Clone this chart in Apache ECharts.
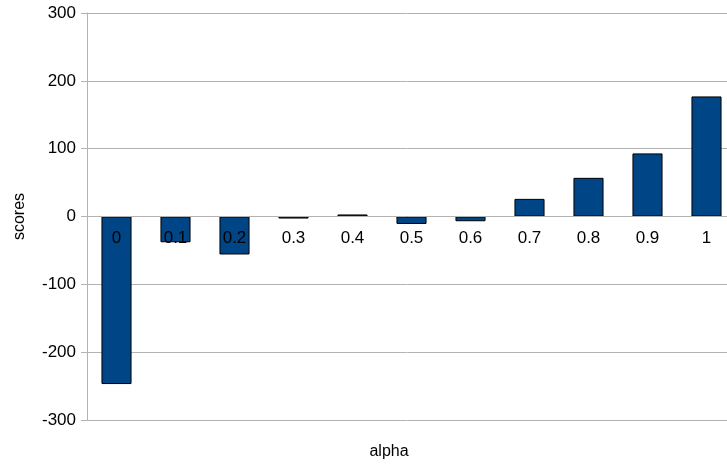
<!DOCTYPE html>
<html>
<head>
<meta charset="utf-8">
<script src="https://cdn.jsdelivr.net/npm/echarts@6/dist/echarts.min.js"></script>
<style>
  html, body { margin: 0; padding: 0; background: #fff; }
  #chart { width: 727px; height: 464px; }
</style>
</head>
<body>
<div id="chart"></div>
<script>
const categories = ['0', '0.1', '0.2', '0.3', '0.4', '0.5', '0.6', '0.7', '0.8', '0.9', '1']
const scores = [-247, -38, -56, -3, 3, -11, -7, 26, 57, 93, 177]

const GRAY = '#b3b3b3'
const FONT = '"Liberation Sans", Arial, sans-serif'

const chart = echarts.init(document.getElementById('chart'))

// the category axis sits on the zero line (grid is 407px tall, zero half way)
chart.setOption({
  animation: false,
  grid: { left: 87, right: -9, top: 13, bottom: 44, containLabel: false, outerBoundsMode: 'none' },
  xAxis: {
    type: 'category',
    data: categories,
    z: 3,
    position: 'bottom',
    offset: -203.5,
    name: 'alpha',
    nameLocation: 'middle',
    nameGap: 227,
    nameTextStyle: { color: '#000', fontSize: 16, fontFamily: FONT, padding: [0, 45, 0, 0] },
    axisLine: { onZero: false, lineStyle: { color: GRAY } },
    axisTick: { length: 6, lineStyle: { color: GRAY } },
    axisLabel: { color: '#000', fontSize: 17, fontFamily: FONT, margin: 13 },
    splitLine: { show: false },
  },
  yAxis: {
    type: 'value',
    min: -300,
    max: 300,
    interval: 100,
    name: 'scores',
    nameLocation: 'middle',
    nameGap: 59,
    nameTextStyle: { color: '#000', fontSize: 16, fontFamily: FONT },
    axisLine: { show: true, lineStyle: { color: GRAY } },
    axisTick: { show: true, length: 6, lineStyle: { color: GRAY } },
    axisLabel: { color: '#000', fontSize: 17, fontFamily: FONT, margin: 11 },
    splitLine: { lineStyle: { color: GRAY } },
  },
  series: [{
    type: 'bar',
    data: scores,
    barWidth: '51%',
    itemStyle: { color: '#004586', borderColor: '#000', borderWidth: 1 },
  }],
})
</script>
</body>
</html>
